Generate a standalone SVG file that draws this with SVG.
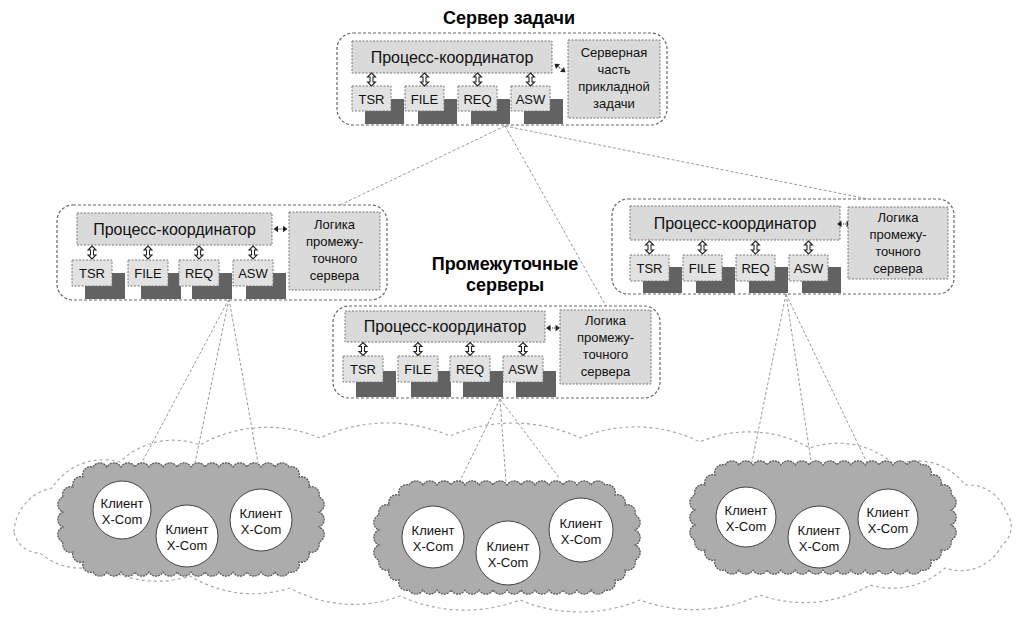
<svg xmlns="http://www.w3.org/2000/svg" width="1017" height="619" viewBox="0 0 1017 619">
<style>
.t{font-family:"Liberation Sans",Arial,sans-serif;fill:#111}
.tb{font-family:"Liberation Sans",Arial,sans-serif;font-weight:bold;fill:#000;text-anchor:middle}
.outer{fill:#fff;stroke:#666;stroke-width:1.2;stroke-dasharray:3 2}
.box{fill:#dadada;stroke:#777;stroke-width:1;stroke-dasharray:2 1.5}
.sm{fill:#e2e2e2;stroke:#777;stroke-width:1;stroke-dasharray:2 1.5}
.sh{fill:#626262}
.cn{fill:none;stroke:#9a9a9a;stroke-width:1;stroke-dasharray:3 2}
.cloud{fill:#acacac;stroke:#555;stroke-width:1.2;stroke-dasharray:2 1}
.big{fill:#fff;stroke:#a8a8a8;stroke-width:1.2;stroke-dasharray:3 3}
.cl{fill:#fff;stroke:#444;stroke-width:1}
.c{text-anchor:middle}
</style>
<defs>
<path id="va" d="M0 -6.5L4 -2.5H1.5V2.5H4L0 6.5L-4 2.5H-1.5V-2.5H-4Z" fill="#fff" stroke="#222" stroke-width="1.1"/>
<g id="ha" fill="#222"><path d="M-7 0L-2.5 -3.2V3.2Z M7 0L2.5 -3.2V3.2Z"/><path d="M-3 0H3" stroke="#222" stroke-width="1" stroke-dasharray="1 1"/></g>
<path id="cloudp" d="M35 5a8 8 0 0 1 14 0a8 8 0 0 1 14 0a8 8 0 0 1 14 0a8 8 0 0 1 14 0a8 8 0 0 1 14 0a8 8 0 0 1 14 0a8 8 0 0 1 14 0a8 8 0 0 1 14 0a8 8 0 0 1 14 0a8 8 0 0 1 14 0a8 8 0 0 1 14 0a8 8 0 0 1 14 0a8 8 0 0 1 14 0a8 8 0 0 1 14 0a8 8 0 0 1 10 10a8 8 0 0 1 10 10a8 8 0 0 1 10 10a8 8 0 0 1 0 15a8 8 0 0 1 0 15a8 8 0 0 1 0 15a8 8 0 0 1 -10 10a8 8 0 0 1 -10 10a8 8 0 0 1 -10 10a8 8 0 0 1 -14 0a8 8 0 0 1 -14 0a8 8 0 0 1 -14 0a8 8 0 0 1 -14 0a8 8 0 0 1 -14 0a8 8 0 0 1 -14 0a8 8 0 0 1 -14 0a8 8 0 0 1 -14 0a8 8 0 0 1 -14 0a8 8 0 0 1 -14 0a8 8 0 0 1 -14 0a8 8 0 0 1 -14 0a8 8 0 0 1 -14 0a8 8 0 0 1 -14 0a8 8 0 0 1 -10 -10a8 8 0 0 1 -10 -10a8 8 0 0 1 -10 -10a8 8 0 0 1 0 -15a8 8 0 0 1 0 -15a8 8 0 0 1 0 -15a8 8 0 0 1 10 -10a8 8 0 0 1 10 -10a8 8 0 0 1 10 -10Z"/>
</defs>
<rect width="1017" height="619" fill="#fff"/>

<g id="network-cloud">
<path class="big" d="M14 532A47 47 0 0 1 52 488A61 61 0 0 1 120 462A76 76 0 0 1 200 445A136 136 0 0 1 320 438A158 158 0 0 1 450 436A158 158 0 0 1 580 438A145 145 0 0 1 700 442A123 123 0 0 1 810 448A85 85 0 0 1 895 465A60 60 0 0 1 965 485A40 40 0 0 1 1006 512A23 23 0 0 1 1002 545A46 46 0 0 1 945 568A79 79 0 0 1 870 585A132 132 0 0 1 760 595A156 156 0 0 1 640 600A156 156 0 0 1 520 600A156 156 0 0 1 400 596A132 132 0 0 1 290 588A121 121 0 0 1 190 576A108 108 0 0 1 100 565A62 62 0 0 1 40 553A26 26 0 0 1 14 532Z"/>
</g>

<g id="connectors" class="cn">
<path d="M505 126L340 205M505 126L606 306M505 126L868 199"/>
<path d="M229 299L140 466M229 299L195 463M229 299L258 463"/>
<path d="M500 399L458 485M500 399L506 482M500 399L560 479"/>
<path d="M786 294L752 462M786 294L811 461M786 294L869 467"/>
</g>

<g id="server-task" transform="translate(337,33)">
<text class="tb" x="172" y="-9" font-size="18">Сервер задачи</text>
<rect class="outer" x="0" y="0" width="330" height="92" rx="16"/>
<rect class="sh" x="28" y="66" width="39" height="25"/><rect class="sh" x="81" y="66" width="39" height="25"/><rect class="sh" x="134" y="66" width="39" height="25"/><rect class="sh" x="187" y="66" width="39" height="25"/>
<rect class="box" x="15" y="8" width="200" height="32"/>
<text class="t c" x="115" y="29.5" font-size="16">Процесс-координатор</text>
<rect class="sm" x="15" y="53" width="39" height="25"/><rect class="sm" x="68" y="53" width="39" height="25"/><rect class="sm" x="121" y="53" width="39" height="25"/><rect class="sm" x="174" y="53" width="39" height="25"/>
<text class="t c" x="34.5" y="70.5" font-size="13">TSR</text><text class="t c" x="87.5" y="70.5" font-size="13">FILE</text><text class="t c" x="140.5" y="70.5" font-size="13">REQ</text><text class="t c" x="193.5" y="70.5" font-size="13">ASW</text>
<use href="#va" x="34.5" y="46.5"/><use href="#va" x="87.5" y="46.5"/><use href="#va" x="140.5" y="46.5"/><use href="#va" x="193.5" y="46.5"/>
<use href="#ha" transform="translate(223,35) rotate(37)"/>
<rect class="box" x="231" y="7" width="92" height="78"/>
<text class="t c" font-size="13"><tspan x="277" y="24">Серверная</tspan><tspan x="277" y="41">часть</tspan><tspan x="277" y="58">прикладной</tspan><tspan x="277" y="75">задачи</tspan></text>
</g>

<g id="mid-left" transform="translate(57,205)">
<rect class="outer" x="0" y="0" width="330" height="95" rx="16"/>
<rect class="sh" x="28" y="68" width="40" height="26"/><rect class="sh" x="84" y="68" width="40" height="26"/><rect class="sh" x="135" y="68" width="40" height="26"/><rect class="sh" x="189" y="68" width="40" height="26"/>
<rect class="box" x="20" y="8" width="195" height="32"/>
<text class="t c" x="117.5" y="29.5" font-size="16">Процесс-координатор</text>
<rect class="sm" x="15" y="55" width="40" height="26"/><rect class="sm" x="71" y="55" width="40" height="26"/><rect class="sm" x="122" y="55" width="40" height="26"/><rect class="sm" x="176" y="55" width="40" height="26"/>
<text class="t c" x="35" y="73" font-size="13">TSR</text><text class="t c" x="91" y="73" font-size="13">FILE</text><text class="t c" x="142" y="73" font-size="13">REQ</text><text class="t c" x="196" y="73" font-size="13">ASW</text>
<use href="#va" x="35" y="47.5"/><use href="#va" x="91" y="47.5"/><use href="#va" x="142" y="47.5"/><use href="#va" x="196" y="47.5"/>
<use href="#ha" x="223.5" y="24"/>
<rect class="box" x="232" y="7" width="91" height="78"/>
<text class="t c" font-size="13"><tspan x="277.5" y="24">Логика</tspan><tspan x="277.5" y="41">промежу-</tspan><tspan x="277.5" y="58">точного</tspan><tspan x="277.5" y="75">сервера</tspan></text>
</g>

<g id="mid-right" transform="translate(612,199)">
<rect class="outer" x="0" y="0" width="342" height="95" rx="16"/>
<rect class="sh" x="31" y="68" width="39" height="26"/><rect class="sh" x="84" y="68" width="39" height="26"/><rect class="sh" x="137" y="68" width="39" height="26"/><rect class="sh" x="190" y="68" width="39" height="26"/>
<rect class="box" x="18" y="7" width="210" height="34"/>
<text class="t c" x="123" y="29.5" font-size="16">Процесс-координатор</text>
<rect class="sm" x="18" y="56" width="39" height="26"/><rect class="sm" x="71" y="56" width="39" height="26"/><rect class="sm" x="124" y="56" width="39" height="26"/><rect class="sm" x="177" y="56" width="39" height="26"/>
<text class="t c" x="37.5" y="74" font-size="13">TSR</text><text class="t c" x="90.5" y="74" font-size="13">FILE</text><text class="t c" x="143.5" y="74" font-size="13">REQ</text><text class="t c" x="196.5" y="74" font-size="13">ASW</text>
<use href="#va" x="37.5" y="48.5"/><use href="#va" x="90.5" y="48.5"/><use href="#va" x="143.5" y="48.5"/><use href="#va" x="196.5" y="48.5"/>
<use href="#ha" x="232" y="25"/>
<rect class="box" x="236" y="8" width="100" height="72"/>
<text class="t c" font-size="13"><tspan x="286" y="23">Логика</tspan><tspan x="286" y="40">промежу-</tspan><tspan x="286" y="57">точного</tspan><tspan x="286" y="74">сервера</tspan></text>
</g>

<g id="mid-center" transform="translate(333,306)">
<rect class="outer" x="0" y="0" width="327" height="92" rx="16"/>
<rect class="sh" x="23" y="65" width="40" height="26"/><rect class="sh" x="78" y="65" width="40" height="26"/><rect class="sh" x="130" y="65" width="40" height="26"/><rect class="sh" x="183" y="65" width="40" height="26"/>
<rect class="box" x="12" y="5" width="200" height="31"/>
<text class="t c" x="112" y="26" font-size="16">Процесс-координатор</text>
<rect class="sm" x="10" y="50" width="40" height="26"/><rect class="sm" x="65" y="50" width="40" height="26"/><rect class="sm" x="117" y="50" width="40" height="26"/><rect class="sm" x="170" y="50" width="40" height="26"/>
<text class="t c" x="30" y="68" font-size="13">TSR</text><text class="t c" x="85" y="68" font-size="13">FILE</text><text class="t c" x="137" y="68" font-size="13">REQ</text><text class="t c" x="190" y="68" font-size="13">ASW</text>
<use href="#va" x="30" y="43"/><use href="#va" x="85" y="43"/><use href="#va" x="137" y="43"/><use href="#va" x="190" y="43"/>
<use href="#ha" x="220" y="22"/>
<rect class="box" x="227" y="4" width="91" height="74"/>
<text class="t c" font-size="13"><tspan x="272.5" y="19">Логика</tspan><tspan x="272.5" y="36">промежу-</tspan><tspan x="272.5" y="53">точного</tspan><tspan x="272.5" y="70">сервера</tspan></text>
</g>

<g id="label-intermediate">
<text class="tb" x="505" y="270" font-size="18">Промежуточные</text>
<text class="tb" x="505" y="291" font-size="18">серверы</text>
</g>

<g id="cloud-left">
<use href="#cloudp" class="cloud" x="58" y="462"/>
<circle class="cl" cx="122" cy="510" r="29"/><circle class="cl" cx="187" cy="536" r="31"/><circle class="cl" cx="261" cy="520" r="31"/>
<g class="t c" font-size="13">
<text x="122" y="508">Клиент</text><text x="122" y="524">X-Com</text>
<text x="187" y="534">Клиент</text><text x="187" y="550">X-Com</text>
<text x="261" y="518">Клиент</text><text x="261" y="534">X-Com</text>
</g>
</g>

<g id="cloud-center">
<use href="#cloudp" class="cloud" x="374" y="480"/>
<circle class="cl" cx="433" cy="537" r="31"/><circle class="cl" cx="508" cy="553" r="32"/><circle class="cl" cx="581" cy="530" r="32"/>
<g class="t c" font-size="13">
<text x="433" y="535">Клиент</text><text x="433" y="551">X-Com</text>
<text x="508" y="551">Клиент</text><text x="508" y="567">X-Com</text>
<text x="581" y="528">Клиент</text><text x="581" y="544">X-Com</text>
</g>
</g>

<g id="cloud-right">
<use href="#cloudp" class="cloud" x="690" y="460"/>
<circle class="cl" cx="746" cy="517" r="30"/><circle class="cl" cx="819" cy="537" r="31"/><circle class="cl" cx="888" cy="519" r="30"/>
<g class="t c" font-size="13">
<text x="746" y="515">Клиент</text><text x="746" y="531">X-Com</text>
<text x="819" y="535">Клиент</text><text x="819" y="551">X-Com</text>
<text x="888" y="517">Клиент</text><text x="888" y="533">X-Com</text>
</g>
</g>
</svg>
